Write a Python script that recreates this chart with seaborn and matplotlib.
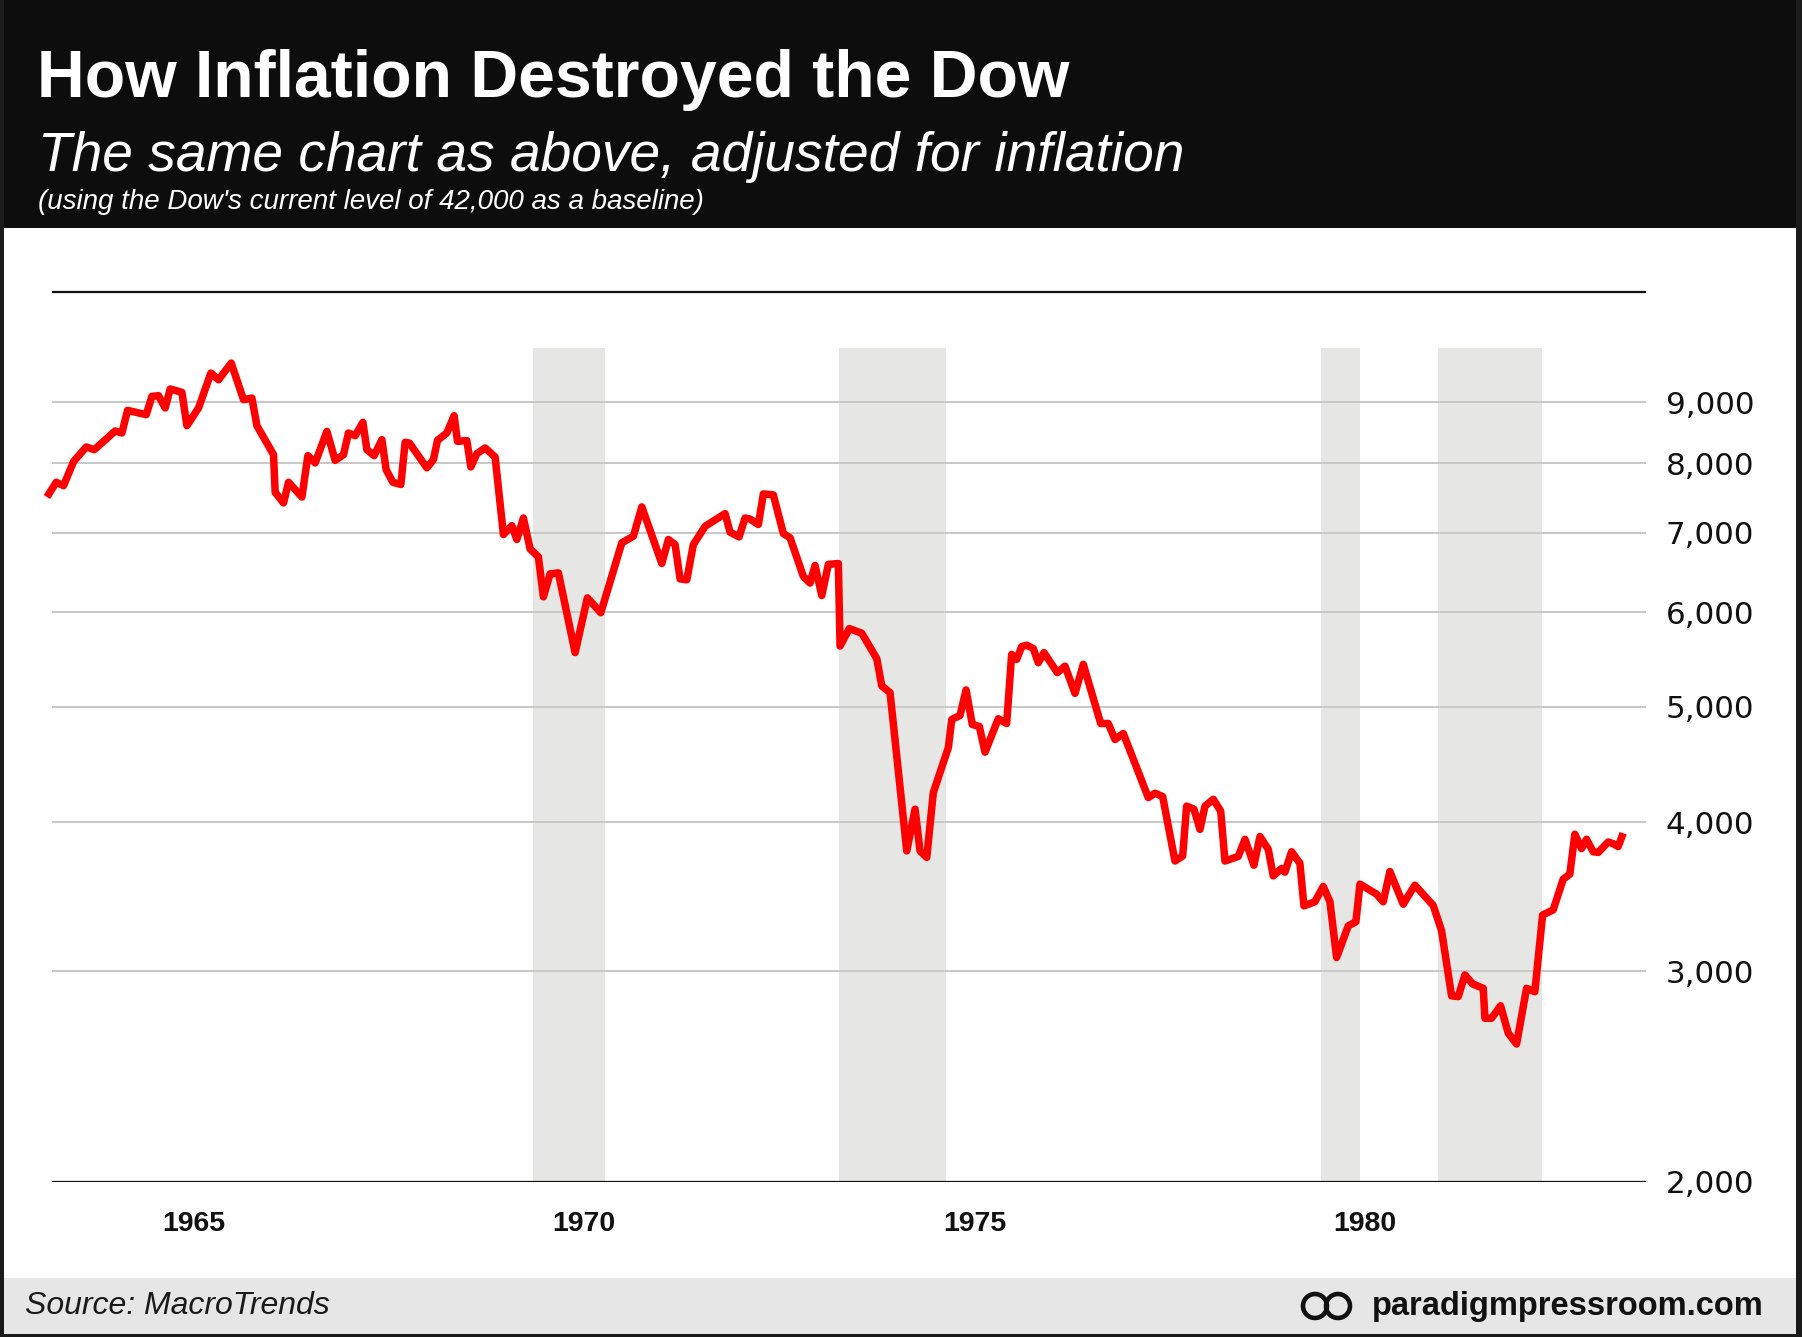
import numpy as np
import pandas as pd
import matplotlib
matplotlib.use("Agg")
import matplotlib.pyplot as plt
from matplotlib.patches import Rectangle, Circle
from matplotlib.transforms import IdentityTransform
from matplotlib.ticker import NullLocator, NullFormatter
import seaborn as sns

# ---------------- data ----------------
years = [
    1963.693, 1963.812, 1963.906, 1964.034, 1964.196, 1964.299, 1964.567, 1964.653, 1964.725, 1964.964,
    1965.037, 1965.122, 1965.207, 1965.271, 1965.421, 1965.485, 1965.634, 1965.792, 1965.890, 1966.052,
    1966.210, 1966.317, 1966.381, 1966.594, 1966.615, 1966.722, 1966.786, 1966.957, 1967.034, 1967.127,
    1967.277, 1967.383, 1967.490, 1967.553, 1967.639, 1967.738, 1967.789, 1967.882, 1967.981, 1968.036,
    1968.122, 1968.224, 1968.279, 1968.334, 1968.557, 1968.641, 1968.693, 1968.813, 1968.906, 1968.949,
    1969.069, 1969.120, 1969.197, 1969.303, 1969.431, 1969.537, 1969.645, 1969.709, 1969.793, 1969.879,
    1969.985, 1970.049, 1970.135, 1970.241, 1970.455, 1970.612, 1970.784, 1971.053, 1971.201, 1971.309,
    1971.565, 1971.649, 1971.735, 1971.799, 1971.885, 1971.969, 1972.119, 1972.375, 1972.439, 1972.554,
    1972.631, 1972.695, 1972.801, 1972.865, 1972.993, 1973.121, 1973.207, 1973.377, 1973.463, 1973.527,
    1973.613, 1973.697, 1973.825, 1973.847, 1973.966, 1974.125, 1974.317, 1974.381, 1974.487, 1974.701,
    1974.807, 1974.871, 1974.957, 1975.041, 1975.233, 1975.277, 1975.383, 1975.460, 1975.540, 1975.630,
    1975.703, 1975.873, 1975.980, 1976.044, 1976.108, 1976.172, 1976.237, 1976.321, 1976.385, 1976.458,
    1976.628, 1976.727, 1976.855, 1976.961, 1977.184, 1977.281, 1977.367, 1977.473, 1977.793, 1977.879,
    1977.977, 1978.135, 1978.233, 1978.284, 1978.378, 1978.455, 1978.519, 1978.625, 1978.720, 1978.775,
    1978.945, 1979.031, 1979.146, 1979.223, 1979.329, 1979.393, 1979.501, 1979.542, 1979.628, 1979.734,
    1979.786, 1979.926, 1980.033, 1980.119, 1980.204, 1980.353, 1980.451, 1980.503, 1980.716, 1980.801,
    1980.886, 1981.057, 1981.206, 1981.441, 1981.548, 1981.676, 1981.761, 1981.847, 1981.945, 1982.081,
    1982.103, 1982.188, 1982.303, 1982.401, 1982.508, 1982.636, 1982.742, 1982.841, 1982.977, 1983.105,
    1983.190, 1983.254, 1983.340, 1983.404, 1983.489, 1983.553, 1983.681, 1983.745, 1983.809, 1983.873,
]
dow_real = [
    7497, 7714, 7664, 8029, 8258, 8215, 8517, 8484, 8862, 8789,
    9105, 9117, 8904, 9236, 9176, 8604, 8904, 9525, 9402, 9710,
    9047, 9076, 8604, 8136, 7566, 7412, 7714, 7497, 8121, 8007,
    8510, 8047, 8136, 8484, 8440, 8660, 8215, 8121, 8375, 7902,
    7714, 7681, 8332, 8320, 7932, 8059, 8364, 8484, 8772, 8348,
    8360, 7946, 8152, 8242, 8099, 6973, 7094, 6907, 7200, 6782,
    6679, 6184, 6463, 6476, 5552, 6171, 5997, 6863, 6951, 7356,
    6594, 6907, 6840, 6401, 6390, 6840, 7085, 7261, 7005, 6942,
    7200, 7185, 7110, 7543, 7528, 6987, 6930, 6432, 6350, 6570,
    6199, 6583, 6594, 5623, 5816, 5764, 5488, 5206, 5140, 3786,
    4104, 3786, 3739, 4238, 4621, 4880, 4918, 5166, 4833, 4814,
    4581, 4887, 4842, 5533, 5480, 5617, 5632, 5596, 5445, 5552,
    5342, 5409, 5132, 5428, 4842, 4842, 4695, 4750, 4197, 4232,
    4205, 3713, 3749, 4128, 4104, 3947, 4128, 4183, 4089, 3713,
    3746, 3872, 3683, 3893, 3798, 3608, 3660, 3634, 3780, 3697,
    3405, 3432, 3535, 3432, 3082, 3276, 3302, 3551, 3483, 3432,
    3639, 3416, 3544, 3408, 3245, 2862, 2858, 2980, 2929, 2904,
    2741, 2741, 2808, 2664, 2608, 2904, 2885, 3345, 3379, 3585,
    3620, 3910, 3803, 3872, 3780, 3775, 3852, 3839, 3818, 3918,
]
recession_starts = [1969.917, 1973.833, 1980.0, 1981.5]
recession_ends = [1970.833, 1975.2, 1980.5, 1982.833]
x_tick_years = [1965, 1970, 1975, 1980]
x_tick_labels = ["1965", "1970", "1975", "1980"]
y_tick_values = [2000, 3000, 4000, 5000, 6000, 7000, 8000, 9000]
y_tick_labels = ["2,000", "3,000", "4,000", "5,000", "6,000", "7,000", "8,000", "9,000"]

title = "How Inflation Destroyed the Dow"
subtitle = "The same chart as above, adjusted for inflation"
note = "(using the Dow's current level of 42,000 as a baseline)"
source = "Source: MacroTrends"
brand = "paradigmpressroom.com"

df = pd.DataFrame({"year": years, "dow": dow_real})

# ---------------- styling ----------------
sns.set_theme(style="white")
plt.rcParams["font.family"] = ["Liberation Sans", "DejaVu Sans"]

W, H = 1802, 1337
fig = plt.figure(figsize=(W / 100, H / 100), dpi=100)
fig.patch.set_facecolor("white")

def fx(px):
    return px / W

def fy(py):
    return 1 - py / H

# header band
fig.add_artist(Rectangle((0, fy(228)), 1, 228 / H, transform=fig.transFigure,
                         facecolor="#0d0d0d", edgecolor="none", zorder=0))
# footer band
fig.add_artist(Rectangle((0, fy(1334)), 1, (1334 - 1278) / H, transform=fig.transFigure,
                         facecolor="#e6e6e6", edgecolor="none", zorder=0))
# borders
border = "#1a1a1a"
fig.add_artist(Rectangle((0, 0), fx(4), 1, transform=fig.transFigure, facecolor=border, edgecolor="none"))
fig.add_artist(Rectangle((1 - fx(6), 0), fx(6), 1, transform=fig.transFigure, facecolor=border, edgecolor="none"))
fig.add_artist(Rectangle((0, 0), 1, 3 / H, transform=fig.transFigure, facecolor=border, edgecolor="none"))

# texts in header
fig.text(fx(37), fy(97), title, color="white", fontsize=47.6, fontweight="bold",
         ha="left", va="baseline", family="Liberation Sans")
fig.text(fx(38), fy(171), subtitle, color="white", fontsize=39.7, fontstyle="italic",
         ha="left", va="baseline", family="Liberation Sans")
fig.text(fx(38), fy(209), note, color="white", fontsize=20, fontstyle="italic",
         ha="left", va="baseline", family="Liberation Sans")

# footer texts
fig.text(fx(25), fy(1306), source, color="#1a1a1a", fontsize=23, fontstyle="italic",
         ha="left", va="center", family="Liberation Sans")
fig.text(fx(1764), fy(1306), brand, color="#111111", fontsize=23.5, fontweight="bold",
         ha="right", va="center", family="Liberation Sans")
for cx in (1315, 1338):
    fig.add_artist(Circle((cx, H - 1306), 12, transform=IdentityTransform(),
                          fill=False, edgecolor="#111111", linewidth=3.3))

# ---------------- axes ----------------
left_px, right_px = 46.7, 1645.6
top_px, bottom_px = 291.9, 1181.5
ax = fig.add_axes([fx(left_px), fy(bottom_px), (right_px - left_px) / W, (bottom_px - top_px) / H])
ax.set_facecolor("none")
ax.set_yscale("log")
x0, x1 = 1963.69, 1984.16
ax.set_xlim(x0, x1)
ax.set_ylim(2000, 11140)
for s in ax.spines.values():
    s.set_visible(False)

grid_x0 = 1963.757
# recession bands
for s, e in zip(recession_starts, recession_ends):
    ax.fill_between([s, e], 2000, 10000, color="#e6e6e5", linewidth=0, zorder=0.5)
# gridlines
ax.hlines(y_tick_values[1:], grid_x0, x1, color="#c8c8c8", linewidth=1.4, zorder=1)
ax.hlines([2000], grid_x0, x1, color="#111111", linewidth=1.6, zorder=3)
ax.plot([grid_x0, x1], [1, 1], transform=ax.get_xaxis_transform(), color="#111111",
        linewidth=1.6, clip_on=False, zorder=3)

sns.lineplot(data=df, x="year", y="dow", ax=ax, color="#ff0000", linewidth=5.4,
             estimator=None, sort=False, zorder=4)
for ln in ax.get_lines():
    ln.set_solid_joinstyle("round")
    ln.set_solid_capstyle("butt")
    ln.set_clip_on(False)
ax.set_xlabel("")
ax.set_ylabel("")

# ticks
ax.set_xticks([y + 0.57 for y in x_tick_years])
ax.set_xticklabels(x_tick_labels, fontsize=20.5, fontweight="bold", family="Liberation Sans", color="#111111")
ax.tick_params(axis="x", length=0, pad=21)

ax.yaxis.tick_right()
ax.yaxis.set_minor_locator(NullLocator())
ax.yaxis.set_minor_formatter(NullFormatter())
ax.set_yticks(y_tick_values)
ax.set_yticklabels(y_tick_labels, fontsize=22.3, family="DejaVu Sans", color="#111111")
ax.tick_params(axis="y", length=0, pad=14.5)
ax.grid(False)

fig.savefig("out.png", dpi=100, facecolor=fig.get_facecolor())
